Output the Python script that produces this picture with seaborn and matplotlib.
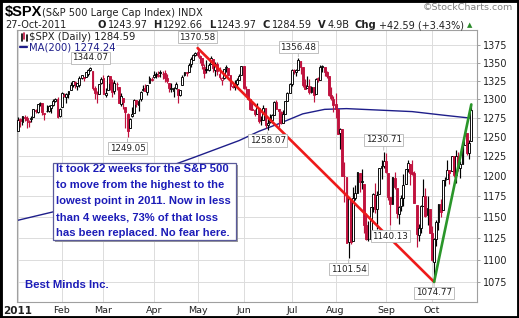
import numpy as np
import pandas as pd
import matplotlib
matplotlib.use("Agg")
import matplotlib.pyplot as plt
import seaborn as sns
from matplotlib.patches import Rectangle
from matplotlib.lines import Line2D
from matplotlib.ticker import FixedLocator, NullLocator, FixedFormatter

# ---------------- data ----------------
holidays = ["2011-01-17", "2011-02-21", "2011-04-22", "2011-05-30", "2011-07-04", "2011-09-05"]
month_labels = ["2011", "Feb", "Mar", "Apr", "May", "Jun", "Jul", "Aug", "Sep", "Oct"]

opens = [
    1257.6, 1272.9, 1268.8, 1276.3, 1274.4, 1270.8, 1272.6, 1275.7, 1285.8, 1282.9,
    1293.2, 1294.5, 1280.9, 1283.6, 1283.3, 1288.2, 1291.9, 1297.5, 1299.6, 1276.5,
    1289.1, 1305.9, 1302.8, 1307.0, 1311.9, 1318.8, 1322.5, 1318.1, 1318.7, 1328.7,
    1330.4, 1329.5, 1334.4, 1340.4, 1338.9, 1315.4, 1307.1, 1307.3, 1321.6,
    1328.6, 1305.5, 1312.4, 1330.7, 1322.7, 1311.1, 1319.9, 1315.7, 1293.4, 1301.2,
    1288.5, 1279.5, 1261.6, 1276.7, 1281.7, 1298.3, 1292.2, 1300.6, 1311.8, 1315.5,
    1309.4, 1321.9, 1327.4,
    1329.5, 1333.6, 1332.0, 1335.9, 1334.8, 1336.2, 1329.0, 1321.9, 1314.0, 1311.1,
    1314.5, 1313.4, 1305.9, 1319.1, 1333.2, 1337.1, 1336.8, 1348.4, 1353.9, 1360.1,
    1365.2, 1359.8, 1355.9, 1344.2, 1340.2, 1340.2, 1348.3, 1354.5, 1339.4, 1348.7,
    1334.8, 1326.1, 1328.5, 1342.4, 1342.0, 1333.1, 1317.7, 1316.4, 1320.6, 1325.7, 1332.1,
    1345.2, 1313.6, 1312.9, 1300.3, 1286.3, 1284.6, 1279.6, 1288.3, 1271.3, 1272.2,
    1287.9, 1265.5, 1268.6, 1271.5, 1278.4, 1295.5, 1286.6, 1283.0, 1268.4, 1280.2, 1296.9, 1307.6,
    1320.6, 1339.6, 1337.6, 1339.6, 1352.4, 1343.3, 1319.6, 1314.5, 1317.7, 1308.9,
    1315.9, 1307.1, 1328.7, 1325.7, 1343.8, 1344.3, 1337.4, 1331.9, 1304.8, 1300.1,
    1292.6, 1286.6, 1254.3, 1260.2, 1200.3, 1198.5, 1120.2, 1171.8, 1121.3, 1172.9,
    1178.9, 1204.2, 1192.9, 1189.6, 1140.5, 1123.6, 1124.4, 1162.2, 1176.7, 1158.9, 1177.9, 1209.8, 1213.0,
    1219.1, 1203.9, 1174.0, 1165.9, 1198.0, 1185.4, 1153.5, 1162.6, 1173.3, 1189.4,
    1209.2, 1215.0, 1204.5, 1203.6, 1164.6, 1128.8, 1136.9, 1163.3, 1175.4, 1151.7, 1159.9,
    1131.2, 1097.4, 1124.0, 1144.1, 1165.0, 1158.2, 1194.6, 1196.2, 1207.0, 1205.7,
    1224.5, 1200.8, 1223.5, 1209.9, 1215.4, 1238.7, 1254.2, 1229.2, 1243.97,
]
highs = [
    1276.2, 1274.1, 1277.6, 1278.2, 1276.8, 1271.5, 1277.6, 1286.9, 1286.7, 1293.2,
    1296.1, 1294.6, 1280.9, 1291.2, 1291.9, 1291.3, 1299.7, 1301.6, 1302.7, 1287.2,
    1308.9, 1307.6, 1308.6, 1311.0, 1322.9, 1324.9, 1324.5, 1322.0, 1330.8, 1332.9,
    1330.4, 1337.6, 1341.5, 1344.1, 1338.9, 1317.9, 1310.9, 1320.6, 1329.4,
    1332.1, 1314.2, 1332.3, 1331.1, 1327.7, 1325.7, 1323.2, 1315.7, 1308.4, 1301.2,
    1288.5, 1280.9, 1274.0, 1288.9, 1299.6, 1299.0, 1300.6, 1311.3, 1319.2, 1319.7,
    1319.4, 1331.7, 1329.8,
    1337.9, 1336.7, 1338.2, 1339.5, 1338.8, 1339.5, 1333.8, 1321.9, 1321.4, 1316.8,
    1322.9, 1313.4, 1312.7, 1332.7, 1337.5, 1337.6, 1349.6, 1357.5, 1361.7, 1364.6,
    1370.6, 1360.8, 1355.9, 1348.0, 1354.4, 1349.4, 1359.4, 1354.5, 1351.1, 1350.5,
    1343.3, 1330.4, 1341.8, 1346.8, 1342.0, 1333.1, 1323.7, 1325.9, 1328.5, 1334.6, 1345.2,
    1345.2, 1318.0, 1312.9, 1300.3, 1296.2, 1287.0, 1294.5, 1288.3, 1277.0, 1292.5,
    1287.9, 1274.1, 1279.8, 1280.4, 1297.6, 1298.6, 1286.6, 1283.9, 1284.9, 1296.8, 1309.2, 1322.0,
    1341.0, 1340.9, 1340.9, 1356.5, 1352.4, 1343.3, 1327.2, 1331.5, 1326.9, 1317.7,
    1315.9, 1328.1, 1330.4, 1347.0, 1346.1, 1344.3, 1338.5, 1331.9, 1316.3, 1304.2,
    1307.4, 1286.6, 1261.2, 1260.2, 1218.1, 1198.5, 1172.9, 1171.8, 1186.3, 1189.0,
    1204.5, 1204.2, 1208.5, 1189.6, 1154.5, 1145.5, 1162.4, 1178.5, 1190.7, 1181.2, 1210.3, 1220.1, 1230.7,
    1229.3, 1203.9, 1174.0, 1198.6, 1204.4, 1185.4, 1162.5, 1176.4, 1202.4, 1209.1,
    1220.1, 1215.0, 1220.4, 1206.3, 1164.6, 1141.7, 1164.2, 1195.9, 1184.7, 1175.1, 1159.9,
    1139.0, 1125.1, 1146.1, 1165.6, 1171.4, 1194.9, 1199.2, 1220.3, 1207.5, 1224.6,
    1224.5, 1233.1, 1229.6, 1219.4, 1239.0, 1256.6, 1254.2, 1246.3, 1292.66,
]
lows = [
    1257.6, 1262.7, 1265.4, 1270.4, 1261.7, 1262.2, 1269.6, 1275.7, 1280.5, 1281.1,
    1290.2, 1278.9, 1271.6, 1282.1, 1282.5, 1281.1, 1291.0, 1295.9, 1275.1, 1276.0,
    1289.1, 1302.6, 1294.8, 1301.7, 1311.9, 1316.0, 1314.9, 1311.7, 1316.1, 1326.9,
    1324.6, 1329.5, 1331.0, 1338.1, 1312.3, 1299.6, 1294.3, 1307.3, 1320.6,
    1306.1, 1302.6, 1312.4, 1312.6, 1303.1, 1306.9, 1312.3, 1294.2, 1291.0, 1286.4,
    1261.1, 1249.05, 1261.6, 1276.2, 1281.7, 1289.2, 1284.1, 1297.7, 1310.2, 1310.2,
    1305.3, 1321.9, 1325.0,
    1328.5, 1329.1, 1330.0, 1330.4, 1326.6, 1322.9, 1321.1, 1309.5, 1309.2, 1302.4,
    1313.7, 1294.7, 1303.9, 1319.1, 1332.0, 1331.5, 1336.8, 1344.2, 1353.6, 1358.7,
    1358.6, 1349.5, 1341.5, 1329.2, 1335.6, 1338.6, 1348.3, 1336.4, 1332.0, 1333.4,
    1327.3, 1318.5, 1326.6, 1336.4, 1330.7, 1312.6, 1315.4, 1311.8, 1314.4, 1325.7, 1332.1,
    1313.7, 1305.6, 1297.9, 1284.9, 1284.7, 1277.4, 1279.6, 1268.3, 1265.6, 1272.2,
    1261.9, 1258.07, 1267.4, 1267.6, 1278.4, 1286.8, 1262.9, 1267.2, 1267.5, 1280.2, 1296.9, 1307.6,
    1318.2, 1334.3, 1330.9, 1339.6, 1333.7, 1316.4, 1313.3, 1314.5, 1306.5, 1307.5,
    1295.9, 1307.1, 1323.7, 1325.7, 1336.9, 1331.1, 1329.1, 1303.5, 1299.2, 1282.9,
    1274.7, 1254.0, 1234.6, 1199.5, 1168.1, 1119.3, 1101.54, 1118.0, 1121.3, 1170.7,
    1178.9, 1180.5, 1184.4, 1131.0, 1122.1, 1121.1, 1124.4, 1156.3, 1155.0, 1135.9, 1177.9, 1195.8, 1209.4,
    1203.9, 1170.6, 1140.13, 1165.9, 1183.3, 1148.4, 1141.5, 1157.4, 1162.7, 1189.4,
    1204.5, 1188.4, 1201.3, 1166.2, 1114.2, 1121.4, 1131.1, 1163.3, 1150.3, 1139.9, 1131.3,
    1098.9, 1074.77, 1115.7, 1134.9, 1150.3, 1158.2, 1187.3, 1196.2, 1190.6, 1205.7,
    1198.6, 1191.5, 1206.3, 1197.3, 1215.4, 1238.7, 1226.8, 1221.1, 1243.97,
]
closes = [
    1271.9, 1270.2, 1276.6, 1273.9, 1271.5, 1269.8, 1274.5, 1286.0, 1283.8, 1293.2,
    1295.0, 1281.9, 1280.3, 1283.4, 1290.8, 1291.2, 1296.6, 1299.5, 1276.3, 1286.1,
    1307.6, 1304.0, 1307.1, 1310.9, 1319.1, 1324.6, 1320.9, 1321.9, 1329.2, 1332.3,
    1328.0, 1336.3, 1340.4, 1343.0, 1315.4, 1307.4, 1306.1, 1319.9, 1327.2,
    1306.3, 1308.4, 1331.0, 1321.2, 1310.1, 1321.8, 1320.0, 1295.1, 1304.3, 1296.4,
    1281.9, 1256.9, 1273.7, 1279.2, 1298.4, 1293.8, 1297.5, 1309.7, 1313.8, 1310.2,
    1319.4, 1328.3, 1325.8,
    1332.4, 1332.9, 1332.6, 1335.5, 1333.5, 1328.2, 1324.5, 1314.2, 1314.4, 1314.5,
    1319.7, 1305.1, 1312.6, 1330.4, 1337.4, 1335.3, 1347.2, 1355.7, 1360.5, 1363.6,
    1361.2, 1356.6, 1347.3, 1335.1, 1340.2, 1346.3, 1357.2, 1342.1, 1348.7, 1337.8,
    1329.5, 1329.0, 1340.7, 1343.6, 1333.3, 1317.4, 1316.3, 1320.5, 1325.7, 1331.1, 1345.2,
    1314.6, 1312.9, 1300.2, 1286.2, 1284.9, 1279.6, 1289.0, 1271.0, 1271.8, 1287.9,
    1265.4, 1267.6, 1271.5, 1278.4, 1295.5, 1287.1, 1283.5, 1268.5, 1280.1, 1296.7, 1307.4, 1320.6,
    1339.7, 1337.9, 1339.2, 1353.2, 1343.8, 1319.5, 1313.6, 1317.7, 1308.9, 1316.1,
    1305.4, 1326.7, 1325.8, 1343.8, 1345.0, 1337.4, 1331.9, 1304.9, 1300.7, 1292.3,
    1286.9, 1254.1, 1260.3, 1200.1, 1199.4, 1119.5, 1172.5, 1120.8, 1172.6, 1178.8,
    1204.5, 1192.8, 1193.9, 1140.7, 1123.5, 1123.8, 1162.4, 1177.6, 1159.3, 1176.8, 1210.1, 1212.9, 1218.9,
    1204.4, 1174.0, 1165.2, 1198.6, 1185.9, 1154.2, 1162.3, 1172.9, 1188.7, 1209.1,
    1216.0, 1204.1, 1202.1, 1166.8, 1129.6, 1136.4, 1163.0, 1175.4, 1151.1, 1160.4, 1131.4,
    1099.2, 1124.0, 1144.0, 1165.0, 1155.5, 1194.9, 1195.5, 1207.3, 1203.7, 1224.6,
    1200.9, 1225.4, 1209.9, 1215.4, 1238.3, 1254.2, 1229.1, 1242.0, 1284.59,
]

# 200-day moving average, read at sampled trading days
ma_idx = [0, 16, 40, 60, 80, 101, 110, 120, 130, 140, 150, 165, 180, 195, 207]
ma_val = [1146, 1156, 1180, 1203, 1223, 1245, 1257, 1268, 1280, 1286, 1287, 1285, 1283, 1278, 1274.24]

# labelled highs / lows : (trading-day index, value, vertical offset px; negative = above)
ann_idx = [82, 33, 50, 114, 128, 167, 170, 151, 190]
ann_val = [1370.58, 1344.07, 1249.05, 1258.07, 1356.48, 1230.71, 1140.13, 1101.54, 1074.77]
ann_off = [-11, -9, 11, 10, -11, -12, 11, 11, 11]

# trend lines
red_idx, red_val = [82, 190], [1370.58, 1074.77]
green_idx, green_val = [190, 207], [1074.77, 1292.66]

y_ticks = [1075, 1100, 1125, 1150, 1175, 1200, 1225, 1250, 1275, 1300, 1325, 1350, 1375]

note_lines = [
    "It took 22 weeks for the S&P 500",
    "to move from the highest to the",
    "lowest point in 2011. Now in less",
    "than 4 weeks, 73% of that loss",
    "has been replaced. No fear here.",
]

# ---------------- derived ----------------
dates = pd.bdate_range("2011-01-03", "2011-10-27")
dates = dates[~dates.isin(pd.to_datetime(holidays))]
n = len(dates)
assert n == len(opens) == len(highs) == len(lows) == len(closes), (n, len(opens), len(highs), len(lows), len(closes))
idx = np.arange(n)
month_starts = [i for i in range(n) if i == 0 or dates[i].month != dates[i - 1].month]

df = pd.DataFrame({"i": idx, "o": opens, "h": highs, "l": lows, "c": closes})
prev = df["c"].shift(1).fillna(df["o"])
RED = "#c0123e"
df["col"] = np.where(df["c"] >= prev, "black", RED)
df["face"] = np.where(df["c"] > df["o"], "white", df["col"])

# ---------------- figure ----------------
sns.set_theme(style="white")
plt.rcParams["font.family"] = ["DejaVu Sans"]

W, H = 519, 318
fig = plt.figure(figsize=(W / 100, H / 100), dpi=100)
fig.patch.set_facecolor("white")

def fx(x):
    return x / W

def fy(y):
    return 1 - y / H

ax = fig.add_axes([fx(17), fy(302), (477 - 17) / W, (302 - 30) / H])
ax.set_facecolor("white")
ax.set_yscale("log")
ax.set_ylim(1052.6, 1396.6)
ax.set_xlim(-0.5, 209.6)

ax.yaxis.set_major_locator(FixedLocator(y_ticks))
ax.yaxis.set_major_formatter(FixedFormatter([str(t) for t in y_ticks]))
ax.yaxis.set_minor_locator(NullLocator())
ax.yaxis.tick_right()
ax.tick_params(axis="y", which="major", labelsize=6.9, length=2.5, width=0.6,
               color="#909090", pad=1.5, labelcolor="#202020")
ax.set_xticks(month_starts)
ax.set_xticklabels(month_labels)
ax.tick_params(axis="x", labelsize=6.8, length=0, pad=3, labelcolor="#202020")
ax.get_xticklabels()[0].set_fontweight("bold")
ax.get_xticklabels()[0].set_fontsize(7.5)
ax.grid(True, color="#dcdcdc", lw=0.7)
ax.set_axisbelow(True)
for s in ax.spines.values():
    s.set_color("#a0a0a0")
    s.set_linewidth(0.8)

# moving average
sns.lineplot(x=ma_idx, y=ma_val, ax=ax, color="#1e1e8a", lw=1.0, zorder=2)

# candles
ax.vlines(df["i"], df["l"], df["h"], colors=df["col"], lw=0.85, zorder=3)
body_lo = np.minimum(df["o"], df["c"])
body_h = np.maximum(np.abs(df["c"] - df["o"]), 0.8)
ax.bar(df["i"], body_h, bottom=body_lo, width=0.86, color=df["face"],
       edgecolor=df["col"], lw=0.65, zorder=3.5)

# trend lines
sns.lineplot(x=red_idx, y=red_val, ax=ax, color="#ee1a1a", lw=1.9, zorder=4)
sns.lineplot(x=green_idx, y=green_val, ax=ax, color="#2a962a", lw=1.9, zorder=4)

# value labels
for i, v, off in zip(ann_idx, ann_val, ann_off):
    ax.annotate(f"{v:.2f}", xy=(i, v), xytext=(0, -off * 0.72), textcoords="offset points",
                ha="center", va="center", fontsize=6.3, color="#202020", zorder=6,
                bbox=dict(boxstyle="square,pad=0.18", fc="white", ec="#b4b4b4", lw=0.6),
                arrowprops=dict(arrowstyle="-", color="#b4b4b4", lw=0.6, shrinkA=0, shrinkB=1))

# legend block inside the chart
fig.text(fx(29), fy(37), "$SPX (Daily) 1284.59", fontsize=7.2, color="#202020", va="center",
         bbox=dict(fc="white", ec="none", pad=0.3), zorder=7)
fig.text(fx(29), fy(47), "MA(200) 1274.24", fontsize=7.2, color="#1e1e8a", va="center",
         bbox=dict(fc="white", ec="none", pad=0.3), zorder=7)
for (xa, y1, y2, c) in [(21.5, 34, 41, "black"), (24, 33, 39, RED), (26.5, 35, 41, "black")]:
    fig.add_artist(Line2D([fx(xa), fx(xa)], [fy(y1), fy(y2)], color=c, lw=1.2, zorder=8))
fig.add_artist(Line2D([fx(20), fx(27)], [fy(47), fy(47)], color="#1e1e8a", lw=1.6, zorder=8))

# note box
fig.add_artist(Rectangle((fx(55), fy(242)), (236 - 53) / W, (240 - 163) / H,
                         transform=fig.transFigure, fc="#9a9a9a", ec="none", zorder=8))
fig.add_artist(Rectangle((fx(53), fy(240)), (236 - 53) / W, (240 - 163) / H,
                         transform=fig.transFigure, fc="white", ec="#5a5a9a", lw=0.9, zorder=9))
BLUE = "#1c1cb8"
for k, line in enumerate(note_lines):
    fig.text(fx(56), fy(169 + 16 * k), line, fontsize=8.1, fontweight="bold", color=BLUE,
             family=["Liberation Sans", "DejaVu Sans"], va="center", ha="left", zorder=10)
fig.text(fx(25), fy(285), "Best Minds Inc.", fontsize=8.2, fontweight="bold", color=BLUE,
         family=["Liberation Sans", "DejaVu Sans"], va="center", ha="left", zorder=10)

# header
fig.text(fx(5), fy(12), "$SPX", fontsize=10.5, fontweight="bold", family=["Liberation Sans"],
         va="center", color="black")
fig.text(fx(42), fy(13), "(S&P 500 Large Cap Index) INDX", fontsize=7.1, va="center", color="#202020")
fig.text(fx(5), fy(25), "27-Oct-2011", fontsize=7, va="center", color="#202020")
fig.text(fx(513), fy(8), "\u00a9StockCharts.com", fontsize=6.8, ha="right", va="center", color="#808080")

renderer = fig.canvas.get_renderer()
pieces = [("O", True, 2), ("1243.97", False, 5.5), ("H", True, 2), ("1292.66", False, 5.5),
          ("L", True, 2), ("1243.97", False, 5.5), ("C", True, 2), ("1284.59", False, 5.5),
          ("V", True, 2), ("4.9B", False, 5), ("Chg", True, 3), ("+42.59 (+3.43%)", False, 3)]
x = 97.0
for s, bold, gap in pieces:
    t = fig.text(fx(x), fy(25), s, fontsize=7.2 if bold else 7, fontweight="bold" if bold else "normal",
                 va="center", ha="left", color="#202020")
    x += t.get_window_extent(renderer=renderer).width + gap
fig.text(fx(x), fy(25), "\u25b2", fontsize=5, va="center", ha="left", color="#2a8a2a")

# outer frame
fig.add_artist(Rectangle((0, 0), 1, 1, transform=fig.transFigure, fill=False, ec="black", lw=3.5, zorder=20))

fig.savefig("out.png", dpi=100)
